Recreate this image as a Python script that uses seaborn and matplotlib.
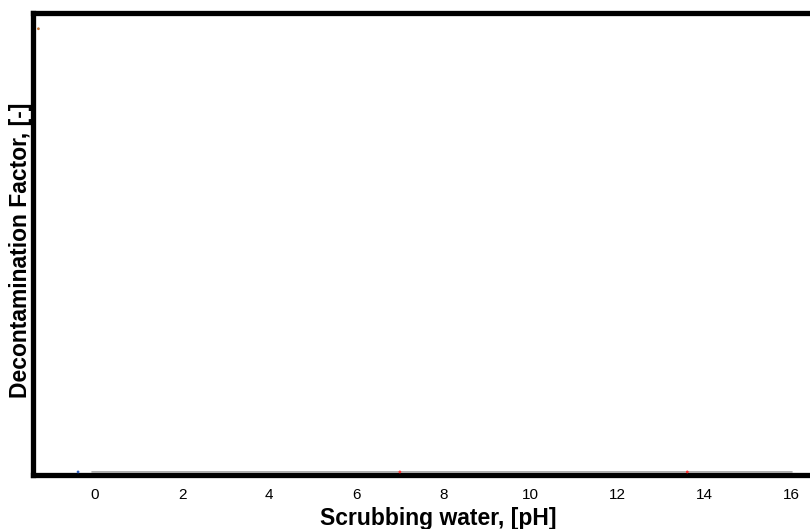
import matplotlib
matplotlib.use("Agg")
import matplotlib.pyplot as plt
import seaborn as sns
import pandas as pd

# values (tiny markers, mostly lying on the baseline)
ph_values = [-1.3, -0.39, 7.0, 13.6]
df_values = [1000, 0, 0, 0]
series = ["a", "b", "c", "c"]
palette = {"a": "#c07030", "b": "#3060c0", "c": "#ff3030"}
x_ticks = [0, 2, 4, 6, 8, 10, 12, 14, 16]

sns.set_style("white")
plt.rcParams["font.family"] = ["Liberation Sans", "DejaVu Sans"]
plt.rcParams["text.color"] = "black"
plt.rcParams["axes.labelcolor"] = "black"
plt.rcParams["xtick.color"] = "black"

fig = plt.figure(figsize=(8.1, 5.29), dpi=100)
ax = fig.add_axes([0.041, 0.102, 1.0, 0.873])

data = pd.DataFrame({"ph": ph_values, "df": df_values, "s": series})
sns.scatterplot(data=data, x="ph", y="df", hue="s", palette=palette,
                s=4, linewidth=0, legend=False, ax=ax, zorder=4)

# grey baseline at zero
ax.axhline(0, xmin=0.072, xmax=0.937, color="#a0a0a0", lw=1.2, zorder=3)

ax.set_xlim(-1.42, 17.18)
ax.set_ylim(-7, 1035)
ax.set_xticks(x_ticks)
ax.set_yticks([])
ax.tick_params(axis="x", direction="in", length=5, width=1, color="#909090",
               labelsize=11, labelcolor="black", pad=9)

for side in ["left", "top", "bottom", "right"]:
    ax.spines[side].set_linewidth(3.8)
    ax.spines[side].set_color("black")

ax.set_xlabel("Scrubbing water, [pH]", fontsize=16.5, fontweight="bold", labelpad=4)
ax.set_ylabel("Decontamination Factor, [-]", fontsize=16.5, fontweight="bold")
ax.yaxis.set_label_coords(-0.001, 0.487)

fig.savefig("out.png", dpi=100)
